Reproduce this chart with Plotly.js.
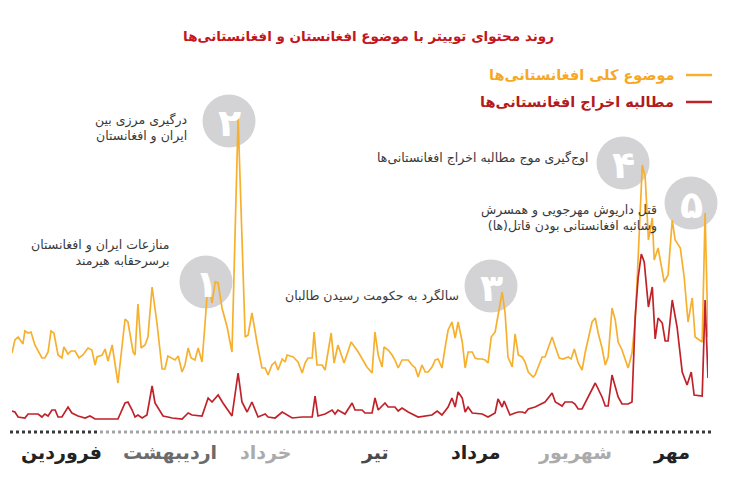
<!DOCTYPE html>
<html>
<head>
<meta charset="utf-8">
<script src="https://cdn.plot.ly/plotly-3.0.1.min.js"></script>
<style>html,body{margin:0;padding:0;background:#fff;}#chart{width:737px;height:490px;}</style>
</head>
<body>
<div id="chart"></div>
<script>
// Day index since 1 Farvardin (arbitrary units)
const generalDays = [0.0,0.9,1.9,3.4,4.0,5.0,5.9,7.1,9.3,10.2,11.2,12.1,13.0,14.3,15.5,16.1,17.4,18.3,19.6,20.8,22.0,23.6,24.8,25.8,26.4,28.0,28.9,29.8,31.1,32.9,35.1,36.0,37.6,38.2,39.1,40.1,41.3,42.2,43.5,45.0,46.6,47.5,48.4,49.7,50.6,51.6,52.8,53.7,54.7,55.6,56.8,57.8,59.0,59.9,60.9,62.1,63.1,64.0,65.2,66.8,68.3,70.2,72.4,73.3,74.5,76.1,77.6,78.6,79.5,80.7,81.7,82.6,83.9,84.8,85.4,87.3,88.8,90.1,91.0,91.9,93.2,93.8,94.7,96.3,97.2,99.1,100.0,101.2,103.1,105.3,107.5,110.2,111.8,112.7,113.7,114.9,115.5,116.8,118.0,118.9,119.9,121.1,122.0,123.0,124.2,125.2,126.1,127.3,128.3,129.2,130.4,131.4,132.3,133.5,134.5,135.4,136.6,137.6,138.5,139.8,140.7,141.6,142.9,143.8,144.7,146.0,146.9,147.8,148.8,150.0,152.2,153.1,154.0,155.3,156.2,157.2,158.4,159.3,160.3,161.8,162.4,163.4,164.6,165.5,167.7,168.7,169.9,171.1,172.7,173.6,174.6,175.8,177.0,178.0,178.9,180.1,181.1,182.0,183.2,184.2,185.1,186.3,187.3,188.2,189.4,190.4,191.3,192.5,193.5,194.1,195.0,195.7,196.6,197.6,198.8,199.4,200.6,202.5,203.7,205.0,205.9,207.5,208.7,209.9,211.2,212.1,214.3,215.2,216.1];
const generalValues = [72,85,88,81,94,92,93,80,67,67,73,94,92,70,67,78,71,74,74,67,70,77,75,60,68,70,76,64,80,42,106,103,73,70,121,77,80,88,138,102,56,56,69,67,65,69,53,60,77,67,65,77,63,100,145,122,143,142,117,98,73,307,88,90,112,82,57,57,50,60,63,55,66,63,70,68,63,52,62,67,67,93,60,60,55,92,62,80,62,83,73,58,52,93,70,58,78,75,70,65,57,65,65,65,60,57,48,60,53,53,58,65,66,57,78,95,103,87,103,83,57,73,73,67,66,66,65,62,88,93,133,112,68,58,91,70,68,63,53,48,50,58,68,68,88,78,67,66,68,66,76,62,55,73,85,103,107,92,77,60,68,117,105,83,75,65,57,72,105,145,218,260,248,185,207,165,177,143,150,205,185,177,148,103,127,88,83,212,88];

const expelDays = [0.0,0.9,1.9,4.0,5.0,8.1,9.3,10.2,11.2,12.4,13.4,14.3,15.5,17.4,18.6,20.5,22.7,24.2,25.8,32.9,35.1,36.0,37.3,38.2,39.1,40.4,41.9,43.5,44.4,46.9,48.4,49.7,52.8,54.7,55.9,59.0,60.9,62.1,64.0,65.5,68.3,70.2,71.4,73.0,74.5,76.4,78.6,79.5,81.7,83.9,87.0,90.1,93.2,94.1,95.0,97.2,99.4,100.3,101.2,103.4,105.6,106.5,108.7,109.6,111.8,112.7,113.7,115.8,116.8,118.9,119.9,121.1,123.0,126.1,130.4,132.0,133.5,135.4,136.6,137.6,138.5,139.8,140.7,141.6,142.9,146.0,147.8,150.0,150.9,152.2,152.8,154.6,156.2,157.2,158.4,159.3,160.3,162.4,165.5,167.7,168.7,170.8,171.7,173.9,174.8,175.8,177.0,181.1,183.2,184.2,185.1,186.3,188.2,189.4,191.3,192.5,193.5,194.4,195.4,196.3,197.6,198.8,199.7,200.6,201.9,202.8,203.7,205.0,206.5,208.1,209.6,210.9,211.8,214.3,215.2,216.1];
const expelValues = [14,13,8,7,11,11,8,11,9,15,15,8,8,18,12,9,7,9,6,6,22,23,15,8,10,7,10,39,22,9,8,7,6,12,10,9,27,23,30,22,9,52,23,13,23,8,11,8,7,13,7,8,8,29,9,11,15,11,15,11,22,15,15,12,12,27,15,22,18,18,14,17,13,8,10,14,10,18,27,18,33,27,13,18,12,11,8,12,26,18,24,10,12,13,13,12,16,18,23,32,23,19,23,23,21,16,16,42,28,19,19,50,28,21,21,23,108,147,171,163,118,138,86,107,102,84,84,125,98,53,40,53,30,29,125,47];

const seriesNames = ['موضوع کلی افغانستانی‌ها', 'مطالبه اخراج افغانستانی‌ها'];
const titleText = 'روند محتوای توییتر با موضوع افغانستان و افغانستانی‌ها';
const monthLabels = ['فروردین','اردیبهشت','خرداد','تیر','مرداد','شهریور','مهر'];
const monthCenters = [15.5, 49.0, 78.9, 112.7, 144.0, 174.8, 204.7];
const eventNumbers = ['۱','۲','۳','۴','۵'];
const eventTexts = [
  'منازعات ایران و افغانستان<br>برسرحقابه هیرمند',
  'درگیری مرزی بین<br>ایران و افغانستان',
  'سالگرد به حکومت رسیدن طالبان',
  'اوج‌گیری موج مطالبه اخراج افغانستانی‌ها',
  'قتل داریوش مهرجویی و همسرش<br>وشائبه افغانستانی بودن قاتل(ها)'
];

const ORANGE = '#f7b02e', RED = '#c0222a', TITLE_RED = '#c4161c';
const FONT = 'DejaVu Sans, sans-serif';
const W = 737, H = 490, L = 12, R = 29, T = 100, B = 65;
const PW = W - L - R, PH = H - T - B;
const px = x => (x - L) / PW;            // pixel -> paper x
const py = y => (H - B - y) / PH;        // pixel -> paper y

const traces = [
  {x: generalDays, y: generalValues, type: 'scatter', mode: 'lines', name: seriesNames[0],
   line: {color: ORANGE, width: 1.7}, hoverinfo: 'skip'},
  {x: expelDays, y: expelValues, type: 'scatter', mode: 'lines', name: seriesNames[1],
   line: {color: RED, width: 1.7}, hoverinfo: 'skip'}
];

const shapes = [];
const annotations = [];

// event circles
const circles = [[206, 282], [229, 121], [491, 286], [623, 163], [691, 203]];
const rad = 26.5;
circles.forEach((c, i) => {
  shapes.push({type: 'circle', xref: 'paper', yref: 'paper', layer: 'below',
    x0: px(c[0] - rad), x1: px(c[0] + rad), y0: py(c[1] + rad), y1: py(c[1] - rad),
    fillcolor: '#d3d3d5', line: {width: 0}});
  annotations.push({xref: 'paper', yref: 'paper', x: px(c[0]), y: py(c[1] + 2), text: '<b>' + eventNumbers[i] + '</b>',
    showarrow: false, font: {family: FONT, size: 38, color: '#ffffff'}, xanchor: 'center', yanchor: 'middle'});
});

// event texts (right edge, vertical center)
const textPos = [[171, 253], [189, 128], [461, 296], [591, 158], [659, 218]];
textPos.forEach((p, i) => {
  annotations.push({xref: 'paper', yref: 'paper', x: px(p[0]), y: py(p[1]), text: eventTexts[i],
    showarrow: false, align: 'right', xanchor: 'right', yanchor: 'middle',
    font: {family: FONT, size: 12.5, color: '#3a3a3a'}});
});

// legend (RTL, symbol on the right)
[[75, ORANGE, '#f7a823'], [102, RED, '#b31b20']].forEach((l, i) => {
  shapes.push({type: 'line', xref: 'paper', yref: 'paper', x0: px(686), x1: px(712), y0: py(l[0]), y1: py(l[0]),
    line: {color: l[1], width: 2.5}});
  annotations.push({xref: 'paper', yref: 'paper', x: px(676), y: py(l[0]), text: '<b>' + seriesNames[i] + '</b>',
    showarrow: false, xanchor: 'right', yanchor: 'middle', font: {family: FONT, size: 14.5, color: l[2]}});
});

// dotted separator
[[10, 100, '#3a3a3a'], [100, 630, '#a5a5a5'], [630, 714, '#3a3a3a']].forEach(s => {
  shapes.push({type: 'line', xref: 'paper', yref: 'paper', x0: px(s[0]), x1: px(s[1]), y0: py(432), y1: py(432),
    line: {color: s[2], width: 3, dash: 'dot'}});
});

// month labels
const monthColors = ['#222222', '#6b6b6b', '#ababab', '#4a4a4a', '#222222', '#ababab', '#222222'];
monthLabels.forEach((m, i) => {
  annotations.push({xref: 'x', yref: 'paper', x: monthCenters[i], y: py(452), text: '<b>' + m + '</b>',
    showarrow: false, xanchor: 'center', yanchor: 'middle', font: {family: FONT, size: 19, color: monthColors[i]}});
});

const layout = {
  width: W, height: H,
  margin: {l: L, r: R, t: T, b: B, pad: 0},
  paper_bgcolor: '#ffffff', plot_bgcolor: '#ffffff',
  showlegend: false,
  title: {text: '<b>' + titleText + '</b>', x: 0.5, xref: 'container', xanchor: 'center',
          y: 1 - 36 / H, yref: 'container', yanchor: 'middle',
          font: {family: FONT, size: 13.5, color: TITLE_RED}},
  xaxis: {range: [0, 216.1], visible: false, fixedrange: true},
  yaxis: {range: [0, 325], visible: false, fixedrange: true},
  shapes: shapes,
  annotations: annotations
};

Plotly.newPlot('chart', traces, layout, {displayModeBar: false, staticPlot: true});
</script>
</body>
</html>
